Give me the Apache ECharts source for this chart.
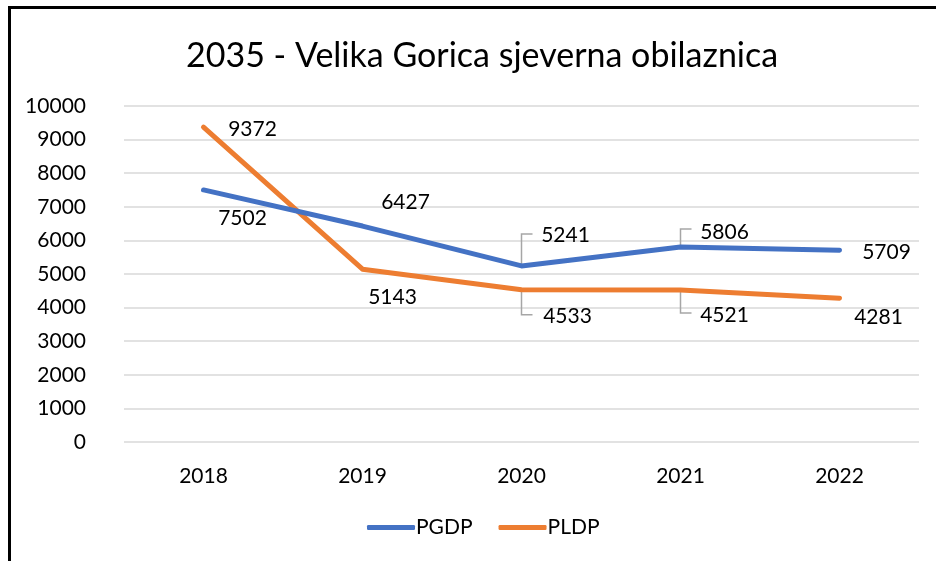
<!DOCTYPE html>
<html>
<head>
<meta charset="utf-8">
<script src="https://cdn.jsdelivr.net/npm/echarts@6/dist/echarts.min.js"></script>
<style>
  html, body { margin: 0; padding: 0; background: #fff; }
  #chart { width: 936px; height: 561px; }
</style>
</head>
<body>
<div id="chart"></div>
<script>
var titleText = '2035 - Velika Gorica sjeverna obilaznica';
var categories = ['2018', '2019', '2020', '2021', '2022'];
var pgdp = [7502, 6427, 5241, 5806, 5709];
var pldp = [9372, 5143, 4533, 4521, 4281];
var yTicks = [0, 1000, 2000, 3000, 4000, 5000, 6000, 7000, 8000, 9000, 10000];

// label offsets from the point (px), Excel-like placement
var pgdpOffsets = [[39, 28], [43, -24], [44, -31], [44, -15], [47, 2]];
var pldpOffsets = [[49, 2], [30, 28], [46, 27], [44, 25], [39, 19]];
// points that get a leader line: [index, end y offset]
var pgdpLeaders = [[2, -32], [3, -18]];
var pldpLeaders = [[2, 25], [3, 23]];

var font = 'Lato';
var blue = '#4472C4';
var orange = '#ED7D31';

function lineData(values, offsets) {
    return values.map(function (v, i) {
        return { value: v, label: { offset: offsets[i] } };
    });
}

function leaderSeries(values, leaders) {
    return {
        type: 'custom',
        silent: true,
        z: 1,
        data: leaders.map(function (l) { return [l[0], values[l[0]], l[1]]; }),
        renderItem: function (params, api) {
            var p = api.coord([api.value(0), api.value(1)]);
            var dy = api.value(2);
            return {
                type: 'polyline',
                shape: { points: [[p[0], p[1]], [p[0], p[1] + dy], [p[0] + 11, p[1] + dy]] },
                style: { stroke: '#A6A6A6', lineWidth: 1.5, fill: null }
            };
        }
    };
}

var myChart = echarts.init(document.getElementById('chart'));
var option = {
    animation: false,
    textStyle: { fontFamily: font },
    title: {
        text: titleText,
        left: 181,
        top: 34,
        textStyle: { fontFamily: font, fontSize: 34, fontWeight: 'normal', color: '#000' }
    },
    graphic: [{
        type: 'rect',
        shape: { x: 9.5, y: 7.5, width: 960, height: 600 },
        style: { fill: null, stroke: '#000', lineWidth: 3 },
        z: 100
    }],
    legend: {
        bottom: 18,
        left: 362,
        itemWidth: 48,
        itemHeight: 5,
        itemGap: 26,
        icon: 'roundRect',
        textStyle: { fontFamily: font, fontSize: 21, color: '#000', padding: [0, 0, 0, -4] },
        data: ['PGDP', 'PLDP']
    },
    grid: { left: 124, right: 17, top: 106, bottom: 119 },
    xAxis: {
        type: 'category',
        data: categories,
        boundaryGap: true,
        axisLine: { show: false },
        axisTick: { show: false },
        axisLabel: { fontFamily: font, fontSize: 21, color: '#000', margin: 24 }
    },
    yAxis: {
        type: 'value',
        min: yTicks[0],
        max: yTicks[yTicks.length - 1],
        interval: 1000,
        axisLine: { show: false },
        axisTick: { show: false },
        axisLabel: {
            fontFamily: font, fontSize: 21, color: '#000', margin: 38,
            formatter: function (v) { return String(v); }
        },
        splitLine: { lineStyle: { color: '#D9D9D9', width: 1.5 } }
    },
    series: [
        {
            name: 'PGDP',
            type: 'line',
            data: lineData(pgdp, pgdpOffsets),
            symbol: 'circle',
            symbolSize: 2,
            itemStyle: { color: blue },
            lineStyle: { color: blue, width: 5, cap: 'round', join: 'round' },
            label: { show: true, position: 'inside', fontFamily: font, fontSize: 21, color: '#000' },
            z: 3
        },
        {
            name: 'PLDP',
            type: 'line',
            data: lineData(pldp, pldpOffsets),
            symbol: 'circle',
            symbolSize: 2,
            itemStyle: { color: orange },
            lineStyle: { color: orange, width: 5, cap: 'round', join: 'round' },
            label: { show: true, position: 'inside', fontFamily: font, fontSize: 21, color: '#000' },
            z: 2
        },
        leaderSeries(pgdp, pgdpLeaders),
        leaderSeries(pldp, pldpLeaders)
    ]
};
option && myChart.setOption(option);
</script>
</body>
</html>
